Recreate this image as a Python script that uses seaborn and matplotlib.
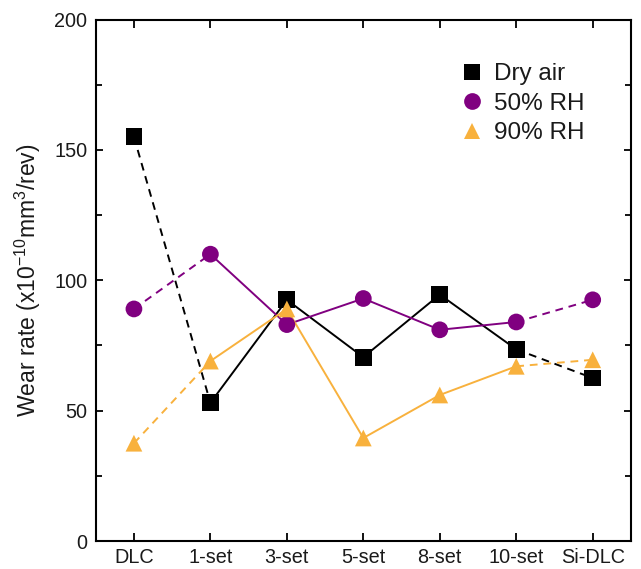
import matplotlib
matplotlib.use("Agg")
import matplotlib.pyplot as plt
import seaborn as sns
import pandas as pd

categories = ["DLC", "1-set", "3-set", "5-set", "8-set", "10-set", "Si-DLC"]
series_names = ["Dry air", "50% RH", "90% RH"]
dry_air = [155, 53, 92.5, 70.5, 94.5, 73.5, 62.5]
rh50 = [89, 110, 83, 93, 81, 84, 92.5]
rh90 = [37.5, 69, 89, 39.5, 56, 67, 69.5]
yticks = [0, 50, 100, 150, 200]
yminor = [25, 75, 125, 175]

colors = {"Dry air": "#000000", "50% RH": "#800080", "90% RH": "#F8B13D"}
markers = {"Dry air": "s", "50% RH": "o", "90% RH": "^"}

rows = []
for name, vals in zip(series_names, [dry_air, rh50, rh90]):
    for i, (c, v) in enumerate(zip(categories, vals)):
        rows.append({"cat": c, "pos": i, "series": name, "value": v})
df = pd.DataFrame(rows)

sns.set_theme(style="ticks")
plt.rcParams["font.family"] = ["Liberation Sans", "DejaVu Sans"]
plt.rcParams["mathtext.fontset"] = "custom"
plt.rcParams["mathtext.rm"] = "Liberation Sans"
plt.rcParams["mathtext.it"] = "Liberation Sans:italic"
plt.rcParams["mathtext.bf"] = "Liberation Sans:bold"
plt.rcParams["text.color"] = "#1a1a1a"
plt.rcParams["axes.labelcolor"] = "#1a1a1a"
plt.rcParams["xtick.color"] = "black"
plt.rcParams["ytick.color"] = "black"
plt.rcParams["xtick.labelcolor"] = "#1a1a1a"
plt.rcParams["ytick.labelcolor"] = "#1a1a1a"

fig = plt.figure(figsize=(6.41, 5.69), dpi=100)
ax = fig.add_axes([0.1493, 0.0492, 0.835, 0.9165])

n = len(categories)
for name in series_names:
    sub = df[df["series"] == name]
    solid = sub[(sub["pos"] >= 1) & (sub["pos"] <= n - 2)]
    left = sub[sub["pos"] <= 1]
    right = sub[sub["pos"] >= n - 2]
    sns.lineplot(data=solid, x="pos", y="value", color=colors[name], lw=1.4,
                 estimator=None, sort=False, legend=False, ax=ax)
    for seg in (left, right):
        sns.lineplot(data=seg, x="pos", y="value", color=colors[name], lw=1.4,
                     linestyle=(0, (4, 3)), estimator=None, sort=False,
                     legend=False, ax=ax)

sns.scatterplot(data=df, x="pos", y="value", hue="series", style="series",
                palette=colors, markers=markers, s=145, linewidth=0,
                ax=ax, zorder=3)

handles, labels = ax.get_legend_handles_labels()
ax.legend(handles, labels, loc="upper left", bbox_to_anchor=(0.653, 0.939),
          frameon=False, fontsize=17.5, handletextpad=0.3, labelspacing=0.3,
          handlelength=1.2, borderpad=0, markerscale=1.0)

ax.set_xlim(-0.5, n - 0.5)
ax.set_ylim(0, 200)
ax.set_xticks(range(n))
ax.set_xticklabels(categories)
ax.set_yticks(yticks)
ax.set_yticks(yminor, minor=True)
ax.tick_params(axis="both", which="both", direction="in", top=True, right=True,
               labelsize=14.3, width=1.3)
ax.tick_params(axis="y", which="major", length=5, pad=6)
ax.tick_params(axis="x", which="major", length=6, pad=5)
ax.tick_params(axis="y", which="minor", length=4)
ax.tick_params(axis="x", which="minor", bottom=False, top=False)
for sp in ax.spines.values():
    sp.set_linewidth(1.5)
    sp.set_color("black")
ax.set_xlabel("")
ax.set_ylabel(r"Wear rate (x10$^{-10}$mm$^{3}$/rev)", fontsize=16.5, labelpad=8)

fig.savefig("out.png", dpi=100)
